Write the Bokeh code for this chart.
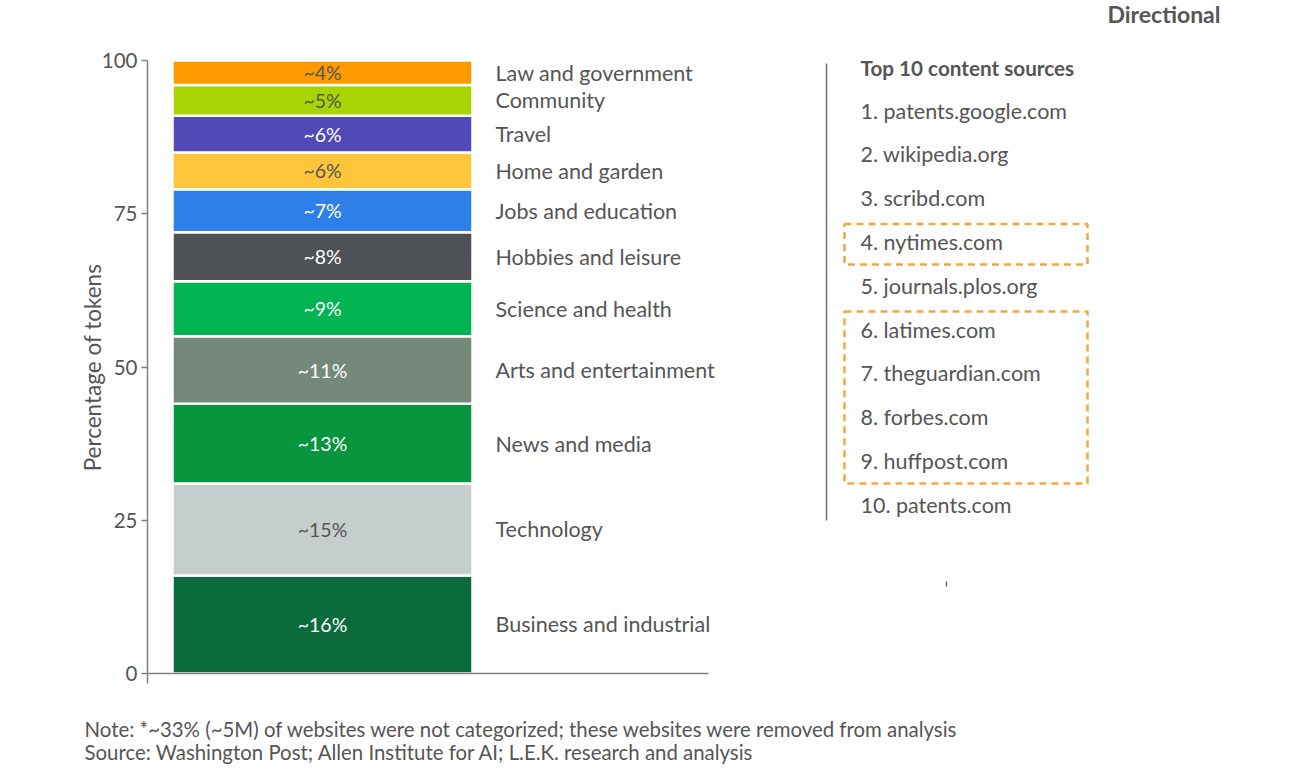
import math
from bokeh.plotting import figure
from bokeh.models import ColumnDataSource, FixedTicker, Range1d
from bokeh.core.properties import value
from bokeh.embed import file_html
from bokeh.resources import INLINE

# ---------------- data ----------------
categories = ["Business and industrial", "Technology", "News and media",
              "Arts and entertainment", "Science and health", "Hobbies and leisure",
              "Jobs and education", "Home and garden", "Travel", "Community",
              "Law and government"]
shares = [16, 15, 13, 11, 9, 8, 7, 6, 6, 5, 4]
share_labels = ["~16%", "~15%", "~13%", "~11%", "~9%", "~8%", "~7%", "~6%", "~6%", "~5%", "~4%"]
colors = ["#0b6b3c", "#c6cecd", "#07963e", "#74897c", "#00b451", "#4e5257",
          "#2e80e8", "#fec53a", "#5049b6", "#a7d402", "#fd9a00"]
label_colors = ["white", "#555555", "white", "white", "white", "white",
                "white", "#555555", "white", "#555555", "#555555"]

y_ticks = [0, 25, 50, 75, 100]
y_title = "Percentage of tokens"

sources_title = "Top 10 content sources"
sources = ["1. patents.google.com", "2. wikipedia.org", "3. scribd.com",
           "4. nytimes.com", "5. journals.plos.org", "6. latimes.com",
           "7. theguardian.com", "8. forbes.com", "9. huffpost.com",
           "10. patents.com"]
highlight_groups = [(4, 4), (6, 9)]  # ranks boxed with dashed orange

note_text = "Note: *~33% (~5M) of websites were not categorized; these websites were removed from analysis"
source_text = "Source: Washington Post; Allen Institute for AI; L.E.K. research and analysis"
tag_text = "Directional"

# ---------------- layout ----------------
W, H = 1300, 770
PX = 6.13            # pixels per percentage point
TOP_PX = 60          # pixel row of 100
BASE_PX = 673        # pixel row of 0
LEFT_PX = 147        # pixel column of the y axis
y_lo = -(H - BASE_PX) / PX
y_hi = 100 + TOP_PX / PX


def py(row):
    """pixel row -> data y"""
    return (BASE_PX - row) / PX


FONT = "Lato"
TXT = "#555555"

p = figure(width=W, height=H, output_backend="svg", toolbar_location=None,
           x_range=Range1d(-LEFT_PX, W - LEFT_PX), y_range=Range1d(y_lo, y_hi),
           min_border=0)
p.outline_line_color = None
p.grid.visible = False
p.xaxis.visible = False
p.background_fill_color = "white"
p.border_fill_color = "white"

# y axis, pinned at x = 0 inside the frame
ya = p.yaxis[0]
ya.fixed_location = 0
ya.ticker = FixedTicker(ticks=y_ticks)
ya.bounds = (-1.6, 100)
ya.axis_line_color = "#808080"
ya.axis_line_width = 1.5
ya.major_tick_line_color = "#808080"
ya.major_tick_line_width = 1.5
ya.major_tick_out = 6
ya.major_tick_in = 0
ya.minor_tick_line_color = None
ya.major_label_text_font = FONT
ya.major_label_text_font_size = "20.5px"
ya.major_label_text_color = TXT
ya.major_label_standoff = 4

p.text(x=[92 - LEFT_PX], y=[py(367)], text=[y_title], angle=math.pi / 2,
       text_color=TXT, text_font=value(FONT), text_font_size="22.5px",
       text_align="center", text_baseline="middle")

# stacked bar
bottoms, tops = [], []
acc = 0
for s in shares:
    bottoms.append(acc)
    acc += s
    tops.append(acc)
mids = [(b + t) / 2 for b, t in zip(bottoms, tops)]

bar_x = 175
bar_w = 300
src = ColumnDataSource(dict(bottom=bottoms, top=tops, mid=mids, color=colors,
                            lab=share_labels, lcol=label_colors, cat=categories,
                            x=[bar_x] * len(shares), lx=[348] * len(shares)))
p.vbar(x="x", width=bar_w, bottom="bottom", top="top", fill_color="color",
       line_color="white", line_width=2.5, source=src)
p.text(x="x", y="mid", text="lab", text_color="lcol", text_font=value(FONT),
       text_font_size="19.5px", text_align="center", text_baseline="middle", source=src)
p.text(x="lx", y="mid", text="cat", text_color=TXT, text_font=value(FONT),
       text_font_size="21.5px", text_align="left", text_baseline="middle", source=src)

# baseline
p.segment(x0=[0], y0=[0], x1=[561], y1=[0], line_color="#808080", line_width=1.5)

# right panel
sep_x = 679
p.segment(x0=[sep_x], y0=[py(63)], x1=[sep_x], y1=[py(520)], line_color="#707070", line_width=1.5)
list_x = 713
first_y = py(110)
step = 43.8 / PX
item_y = [first_y - i * step for i in range(len(sources))]
p.text(x=[list_x], y=[py(67)], text=[sources_title], text_color=TXT,
       text_font=value(FONT), text_font_style="bold", text_font_size="20.7px",
       text_align="left", text_baseline="middle")
p.text(x=[list_x] * len(sources), y=item_y, text=sources, text_color=TXT,
       text_font=value(FONT), text_font_size="21.5px", text_align="left",
       text_baseline="middle")
box_top = [item_y[a - 1] + 18 / PX for a, b in highlight_groups]
box_bot = [item_y[b - 1] - 22.5 / PX for a, b in highlight_groups]
p.quad(left=[697] * len(highlight_groups), right=[940] * len(highlight_groups),
       top=box_top, bottom=box_bot, fill_color=None, line_color="#f2a93b",
       line_width=2.5, line_dash="7 5")

# small stray tick under the list
p.segment(x0=[799], y0=[py(581)], x1=[799], y1=[py(586)], line_color="#707070", line_width=1.5)

# "Directional" tag
p.text(x=[1073], y=[py(13)], text=[tag_text], text_color=TXT,
       text_font=value(FONT), text_font_style="bold", text_font_size="23px",
       text_align="right", text_baseline="middle")

# footnotes
p.text(x=[84 - LEFT_PX] * 2, y=[py(728), py(751)], text=[note_text, source_text],
       text_color=TXT, text_font=value(FONT), text_font_size="20.4px",
       text_align="left", text_baseline="middle")

open("out.html", "w").write(file_html(p, INLINE))
